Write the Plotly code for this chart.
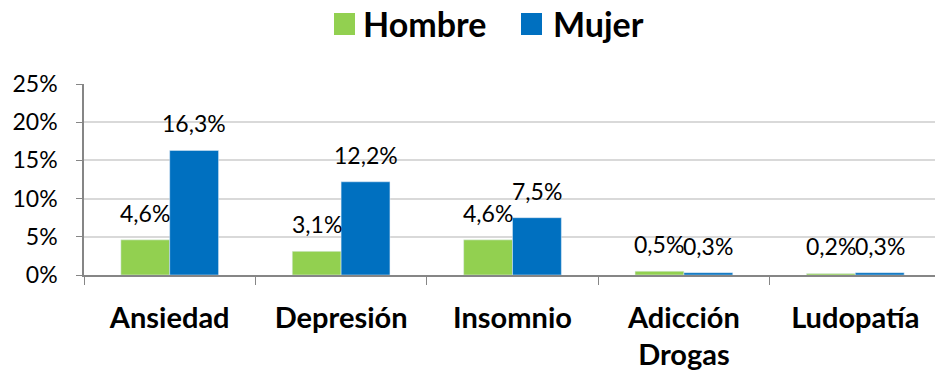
import plotly.graph_objects as go

categories = ["Ansiedad", "Depresión", "Insomnio", "Adicción<br>Drogas", "Ludopatía"]
hombre = [4.6, 3.1, 4.6, 0.5, 0.2]
mujer = [16.3, 12.2, 7.5, 0.3, 0.3]
series_names = ["Hombre", "Mujer"]
y_ticks = [0, 5, 10, 15, 20, 25]
y_tick_labels = ["0%", "5%", "10%", "15%", "20%", "25%"]

GREEN = "#92D050"
BLUE = "#0070C0"
FONT = "Lato, Carlito, 'Liberation Sans', sans-serif"

W, H = 935, 371
L, R, T, B = 84, 0, 84, 96
PW, PH = W - L - R, H - T - B


def px_x(px):
    return (px - L) / PW


def px_y(py):
    return (H - B - py) / PH


fig = go.Figure()
fig.add_trace(go.Bar(name=series_names[0], x=categories, y=hombre, marker_color=GREEN,
                     offsetgroup=0))
fig.add_trace(go.Bar(name=series_names[1], x=categories, y=mujer, marker_color=BLUE,
                     offsetgroup=1))

# value labels above each bar, written with a decimal comma
bar_w = 0.285
for vals, off in ((hombre, -bar_w / 2), (mujer, bar_w / 2)):
    for i, v in enumerate(vals):
        fig.add_annotation(x=i + off, y=v, text=f"{v:.1f}%".replace(".", ","),
                           showarrow=False, yanchor="bottom", yshift=11,
                           font=dict(size=23, color="#000000", family=FONT))

# legend drawn above the plot with large square swatches
legend_items = [(series_names[0], GREEN, 334, 361), (series_names[1], BLUE, 521, 551)]
for name, color, sq_x, txt_x in legend_items:
    fig.add_shape(type="rect", xref="paper", yref="paper",
                  x0=px_x(sq_x), x1=px_x(sq_x + 21), y0=px_y(35), y1=px_y(13),
                  fillcolor=color, line_width=0)
    fig.add_annotation(xref="paper", yref="paper", x=px_x(txt_x), y=px_y(24),
                       xanchor="left", yanchor="middle", showarrow=False,
                       text=f"<b>{name}</b>",
                       font=dict(size=34, color="#000000", family=FONT))

fig.update_layout(
    width=W, height=H,
    margin=dict(l=L, r=R, t=T, b=B),
    plot_bgcolor="white", paper_bgcolor="white",
    bargap=0.43, bargroupgap=0,
    font=dict(family=FONT, color="#000000"),
    showlegend=False,
)
fig.update_xaxes(
    type="category", range=[-0.5, 4.465],
    showline=True, linecolor="#868686", linewidth=1.5,
    ticks="outside", tickson="boundaries", ticklen=8, tickcolor="#868686",
    tickfont=dict(size=29, family=FONT, weight="bold"),
    ticklabelstandoff=16,
    showgrid=False,
)
fig.update_yaxes(
    range=[0, 25], tickvals=y_ticks, ticktext=y_tick_labels,
    showline=True, linecolor="#868686", linewidth=1.5,
    ticks="outside", ticklen=6, tickcolor="#868686",
    tickfont=dict(size=23, family=FONT),
    ticklabelstandoff=14,
    showgrid=True, gridcolor="#d9d9d9", gridwidth=1.5,
    zeroline=False,
)

fig.write_html("out.html")
